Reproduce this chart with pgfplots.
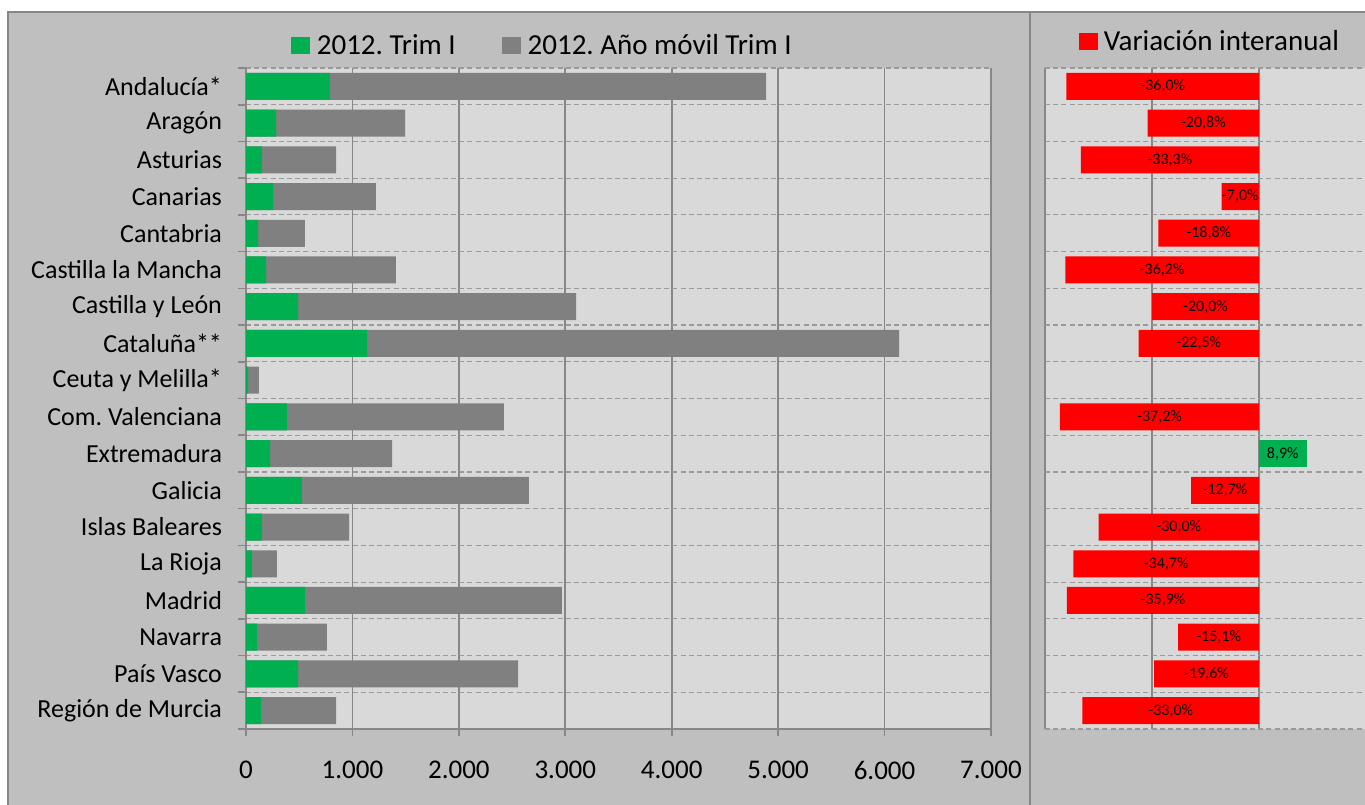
\documentclass[border=0pt]{standalone}
\usepackage{pgfplots}
\pgfplotsset{compat=1.18}
\usepackage{pgfplotstable}
\usepackage{fontspec}
\setmainfont{Carlito}
\frenchspacing

\definecolor{outerbg}{HTML}{BFBFBF}
\definecolor{plotbg}{HTML}{D9D9D9}
\definecolor{gridcol}{HTML}{878787}
\definecolor{dashcol}{HTML}{9A9A9A}
\definecolor{trimgreen}{HTML}{00B050}
\definecolor{movilgray}{HTML}{808080}
\definecolor{varred}{HTML}{FF0000}

% y = position from bottom (Region de Murcia = 0)
\pgfplotstableread{
y trim movil
17 789 4886
16 282 1494
15 150 846
14 254 1221
13 113 554
12 188 1409
11 489 3101
10 1137 6136
9 19 122
8 385 2424
7 226 1372
6 526 2659
5 150 968
4 56 291
3 554 2969
2 103 761
1 489 2556
0 141 846
}\regiones

% Ceuta y Melilla (y=9) has no value
\pgfplotstableread{
y var
17 -36.0
16 -20.8
15 -33.3
14 -7.0
13 -18.8
12 -36.2
11 -20.0
10 -22.5
8 -37.2
7 8.9
6 -12.7
5 -30.0
4 -34.7
3 -35.9
2 -15.1
1 -19.6
0 -33.0
}\variacion

\pgfplotsset{
  panel/.style={
    scale only axis,
    height=330.5pt,
    xbar,
    ymin=-0.5, ymax=17.5,
    ytick={0,...,17},
    minor ytick={-0.5,0.5,...,17.5},
    ymajorgrids=false,
    yminorgrids=true,
    xmajorgrids=true,
    major grid style={draw=gridcol, line width=0.8pt},
    minor grid style={draw=dashcol, line width=0.6pt, dash pattern=on 2.5pt off 1.6pt},
    axis background/.style={fill=plotbg},
    legend image code/.code={\fill[##1] (0pt,-4.2pt) rectangle (9.5pt,4.2pt);},
    legend cell align=left,
  },
}

\begin{document}
\begin{tikzpicture}
\path[use as bounding box] (0,0) rectangle (682.5pt,402pt);
\fill[white] (0,0) rectangle (682.5pt,402pt);
\filldraw[fill=outerbg, draw=gridcol, line width=0.8pt] (4pt,-3pt) rectangle (515pt,396pt);
\filldraw[fill=outerbg, draw=gridcol, line width=0.8pt] (515pt,-3pt) rectangle (686pt,396pt);

\begin{axis}[
  panel,
  at={(123pt,37.5pt)}, anchor=south west,
  width=372.5pt,
  xmin=0, xmax=7000,
  xtick={0,1000,...,7000},
  /pgf/number format/.cd, assume math mode=true, 1000 sep={.},
  /pgfplots/.cd,
  yticklabels={Región de Murcia, País Vasco, Navarra, Madrid, La Rioja, Islas Baleares, Galicia, Extremadura, Com. Valenciana, Ceuta y Melilla*, Cataluña**, Castilla y León, Castilla la Mancha, Cantabria, Canarias, Asturias, Aragón, Andalucía*},
  axis x line*=bottom,
  axis y line*=left,
  axis line style={-, draw=gridcol, line width=0.9pt},
  tick align=outside,
  major tick length=3.5pt,
  minor tick length=4pt,
  major y tick style={draw=none},
  tick style={draw=gridcol, line width=0.8pt},
  yticklabel style={font=\fontsize{13}{15}\selectfont, xshift=-5pt},
  xticklabel style={font=\fontsize{13.5}{16}\selectfont, yshift=-9pt},
  legend columns=2,
  reverse legend,
  legend style={at={(0.399,1.034)}, anchor=center, draw=none, fill=none,
    font=\fontsize{14.5}{17}\selectfont,
    /tikz/every odd column/.append style={column sep=1.5pt},
    /tikz/every even column/.append style={column sep=21pt}},
]
\addplot[fill=movilgray, draw=none, bar width=13.5pt, bar shift=0pt]
  table[x=movil, y=y] {\regiones};
\addlegendentry{2012. Año móvil Trim I}
\addplot[fill=trimgreen, draw=none, bar width=13.5pt, bar shift=0pt]
  table[x=trim, y=y] {\regiones};
\addlegendentry{2012. Trim I}
\end{axis}

\begin{axis}[
  panel,
  at={(522.5pt,37.5pt)}, anchor=south west,
  width=160.5pt,
  xmin=-40, xmax=20,
  xtick={-40,-20,0,20},
  xticklabels={}, yticklabels={},
  axis line style={draw=none},
  tick style={draw=none},
  legend style={at={(0.517,1.04)}, anchor=center, draw=none, fill=none,
    font=\fontsize{14.5}{17}\selectfont,
    /tikz/every odd column/.append style={column sep=1pt}},
]
\addplot[fill=varred, draw=none, bar width=13.5pt, bar shift=0pt]
  coordinates {(-36.0,17) (-20.8,16) (-33.3,15) (-7.0,14) (-18.8,13) (-36.2,12)
    (-20.0,11) (-22.5,10) (-37.2,8) (-12.7,6) (-30.0,5) (-34.7,4)
    (-35.9,3) (-15.1,2) (-19.6,1) (-33.0,0)};
\addlegendentry{Variación interanual}
\addplot[fill=trimgreen, draw=none, bar width=13.5pt, bar shift=0pt, forget plot]
  coordinates {(8.9,7)};
\addplot[draw=none, fill=none, bar width=13.5pt, bar shift=0pt, forget plot,
  point meta=explicit,
  nodes near coords={\pgfmathprintnumber[fixed, fixed zerofill, precision=1, use comma, assume math mode=true]{\pgfplotspointmeta}\%},
  every node near coord/.append style={anchor=center, font=\fontsize{8}{9}\selectfont, text=black}]
  table[x expr=\thisrow{var}/2, y=y, meta=var] {\variacion};
\end{axis}
\end{tikzpicture}
\end{document}
